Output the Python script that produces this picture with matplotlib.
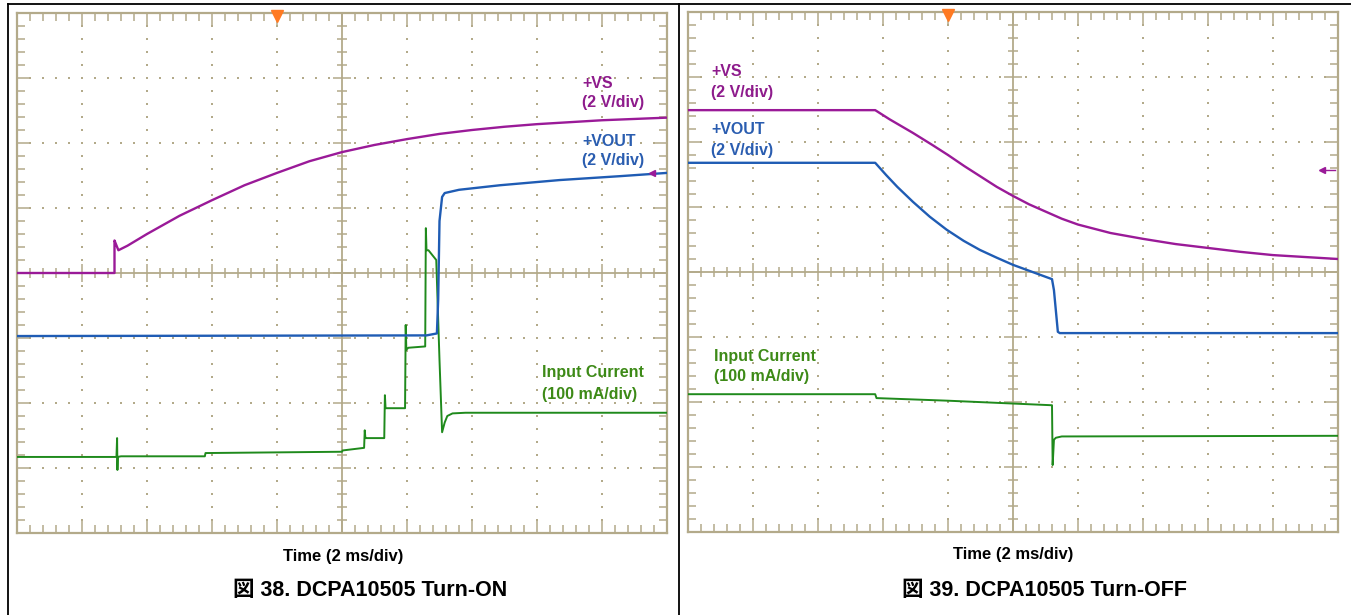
import matplotlib
matplotlib.use('Agg')
import matplotlib.pyplot as plt
from matplotlib.collections import LineCollection
import numpy as np

# trace data, in scope divisions (x: 0..10, y: 0..8 from bottom)
on_vs_x = [0, 1.5, 1.5, 1.52, 1.56, 1.7, 2.0, 2.5, 3.0, 3.5, 4.0, 4.5, 5.0, 5.5,
           6.0, 6.5, 7.0, 7.5, 8.0, 8.5, 9.0, 9.5, 10]
on_vs_y = [4.0, 4.0, 4.5, 4.45, 4.35, 4.42, 4.6, 4.88, 5.12, 5.35, 5.54, 5.72, 5.86, 5.97,
           6.06, 6.14, 6.2, 6.25, 6.29, 6.32, 6.35, 6.37, 6.39]

on_vout_x = [0, 6.3, 6.46, 6.48, 6.5, 6.54, 6.58, 6.8, 7.43, 8.35, 9.28, 10]
on_vout_y = [3.03, 3.04, 3.07, 3.6, 4.8, 5.17, 5.23, 5.28, 5.35, 5.43, 5.49, 5.54]

on_iin_x = [0, 1.53, 1.54, 1.545, 1.55, 1.6, 2.89, 2.9, 5.0, 5.01, 5.34, 5.35, 5.36, 5.38,
            5.65, 5.66, 5.67, 5.7, 5.97, 5.98, 5.99, 6.02, 6.28, 6.29, 6.3, 6.33, 6.45,
            6.5, 6.54, 6.58, 6.62, 6.7, 6.9, 7.5, 10]
on_iin_y = [1.17, 1.17, 1.46, 0.97, 1.17, 1.18, 1.18, 1.23, 1.25, 1.27, 1.31, 1.58, 1.46, 1.46,
            1.46, 2.12, 1.92, 1.92, 1.92, 3.2, 2.82, 2.85, 2.87, 4.69, 4.35, 4.35, 4.2,
            2.66, 1.55, 1.7, 1.8, 1.84, 1.85, 1.85, 1.85]

off_vs_x = [0, 2.88, 3.1, 3.46, 3.75, 4.0, 4.25, 4.5, 4.75, 5.0, 5.25, 5.5, 5.75, 6.0, 6.5,
            7.0, 7.5, 8.0, 8.5, 9.0, 9.5, 10]
off_vs_y = [6.49, 6.49, 6.35, 6.14, 5.96, 5.8, 5.63, 5.47, 5.31, 5.17, 5.04, 4.93, 4.82, 4.73,
            4.6, 4.51, 4.43, 4.37, 4.31, 4.26, 4.23, 4.2]

off_vout_x = [0, 2.88, 3.05, 3.22, 3.46, 3.72, 3.98, 4.24, 4.49, 4.75, 5.0, 5.3, 5.6, 5.63,
              5.69, 5.72, 10]
off_vout_y = [5.68, 5.68, 5.49, 5.31, 5.08, 4.85, 4.65, 4.48, 4.34, 4.22, 4.11, 4.0, 3.89,
              3.72, 3.08, 3.06, 3.06]

off_iin_x = [0, 2.88, 2.9, 4.0, 5.6, 5.61, 5.63, 5.66, 5.75, 10]
off_iin_y = [2.12, 2.12, 2.06, 2.02, 1.95, 1.03, 1.42, 1.45, 1.47, 1.48]

captions = ['図 38. DCPA10505 Turn-ON', '図 39. DCPA10505 Turn-OFF']

W, H = 1351, 615
GRID = '#b3aa8a'
PURPLE = '#9a1a98'
BLUE = '#1f5cb4'
GREEN = '#1f8a1c'
LBL_PURPLE = '#8e1b8c'
LBL_BLUE = '#2a5db0'
LBL_GREEN = '#3d8a17'
FONT = ['Liberation Sans', 'DejaVu Sans']
CJK = ['Liberation Sans', 'Noto Sans CJK JP', 'DejaVu Sans']


def px_axes(fig, x0, y0, x1, y1):
    '''axes placed by pixel box (top-left origin)'''
    return fig.add_axes([x0 / W, 1 - y1 / H, (x1 - x0) / W, (y1 - y0) / H])


def scope_grid(ax):
    '''draws the oscilloscope graticule'''
    ax.set_xlim(0, 10)
    ax.set_ylim(0, 8)
    ax.set_xticks([])
    ax.set_yticks([])
    for s in ax.spines.values():
        s.set_color(GRID)
        s.set_linewidth(1.6)

    # dotted graticule
    dx, dy = [], []
    for gx in range(1, 10):
        if gx == 5:
            continue
        for k in range(1, 40):
            dx.append(gx)
            dy.append(k * 0.2)
    for gy in range(1, 8):
        if gy == 4:
            continue
        for k in range(1, 50):
            dx.append(k * 0.2)
            dy.append(gy)
    ax.scatter(dx, dy, s=1.3, color=GRID, marker='s', linewidths=0, zorder=1)

    # centre cross
    ax.axvline(5, color=GRID, lw=1.3, zorder=1)
    ax.axhline(4, color=GRID, lw=1.3, zorder=1)

    segs = []
    for k in range(1, 50):
        x = k * 0.2
        major = k % 5 == 0
        c = 0.14 if major else 0.08
        e = 0.22 if major else 0.12
        segs.append([(x, 4 - c), (x, 4 + c)])
        segs.append([(x, 0), (x, e)])
        segs.append([(x, 8), (x, 8 - e)])
    for k in range(1, 40):
        y = k * 0.2
        major = k % 5 == 0
        c = 0.14 if major else 0.08
        e = 0.22 if major else 0.12
        segs.append([(5 - c, y), (5 + c, y)])
        segs.append([(0, y), (e, y)])
        segs.append([(10, y), (10 - e, y)])
    ax.add_collection(LineCollection(segs, colors=GRID, linewidths=1.1, zorder=1))

    # trigger marker
    ax.plot([4], [7.95], marker='v', ms=8, color='#ff7a22', mec='#ff7a22',
            clip_on=False, zorder=5)


def main():
    fig = plt.figure(figsize=(W / 100, H / 100), dpi=100)
    fig.patch.set_facecolor('white')

    # page frame lines
    frame = fig.add_axes([0, 0, 1, 1])
    frame.set_xlim(0, W)
    frame.set_ylim(H, 0)
    frame.axis('off')
    frame.plot([8, 8], [4, H], color='black', lw=1.3)
    frame.plot([679, 679], [4, H], color='black', lw=1.3)
    frame.plot([8, W], [4, 4], color='black', lw=1.3)

    # ---- turn-on ----
    ax1 = px_axes(fig, 17, 13, 667, 533)
    scope_grid(ax1)
    ax1.plot(on_vs_x, on_vs_y, color=PURPLE, lw=1.7, zorder=3)
    ax1.plot(on_iin_x, on_iin_y, color=GREEN, lw=1.4, zorder=3)
    ax1.plot(on_vout_x, on_vout_y, color=BLUE, lw=1.7, zorder=4)
    ax1.plot([9.77], [5.54], marker='<', ms=4, color=PURPLE, zorder=5)

    # ---- turn-off ----
    ax2 = px_axes(fig, 688, 12, 1338, 532)
    scope_grid(ax2)
    ax2.plot(off_vs_x, off_vs_y, color=PURPLE, lw=1.7, zorder=3)
    ax2.plot(off_vout_x, off_vout_y, color=BLUE, lw=1.7, zorder=4)
    ax2.plot(off_iin_x, off_iin_y, color=GREEN, lw=1.4, zorder=3)
    ax2.plot([9.75, 9.95], [5.57, 5.57], color=PURPLE, lw=1.0, zorder=5)
    ax2.plot([9.75], [5.57], marker='<', ms=4, color=PURPLE, zorder=5)

    def lbl(x, y, s, c, **kw):
        fig.text(x / W, 1 - y / H, s, color=c, fontsize=11.5, fontweight='bold',
                 family=FONT, va='center', **kw)

    lbl(582, 83, '+VS', LBL_PURPLE)
    lbl(582, 103, '(2 V/div)', LBL_PURPLE)
    lbl(582, 141, '+VOUT', LBL_BLUE)
    lbl(582, 160, '(2 V/div)', LBL_BLUE)
    lbl(542, 373, 'Input Current', LBL_GREEN)
    lbl(542, 394, '(100 mA/div)', LBL_GREEN)

    lbl(711, 72, '+VS', LBL_PURPLE)
    lbl(711, 93, '(2 V/div)', LBL_PURPLE)
    lbl(711, 129, '+VOUT', LBL_BLUE)
    lbl(711, 150, '(2 V/div)', LBL_BLUE)
    lbl(714, 356, 'Input Current', LBL_GREEN)
    lbl(714, 377, '(100 mA/div)', LBL_GREEN)

    for cx, cy in [(343, 556), (1013, 554)]:
        fig.text(cx / W, 1 - cy / H, 'Time (2 ms/div)', fontsize=12, fontweight='bold',
                 family=FONT, ha='center', va='center', color='black')
    for (cx, cy), cap in zip([(370, 591), (1045, 591)], captions):
        fig.text(cx / W, 1 - cy / H, cap, fontsize=15.5, fontweight='bold',
                 family=CJK, ha='center', va='center', color='black')

    fig.savefig('out.png', dpi=100, facecolor='white')


if __name__ == '__main__':
    main()
